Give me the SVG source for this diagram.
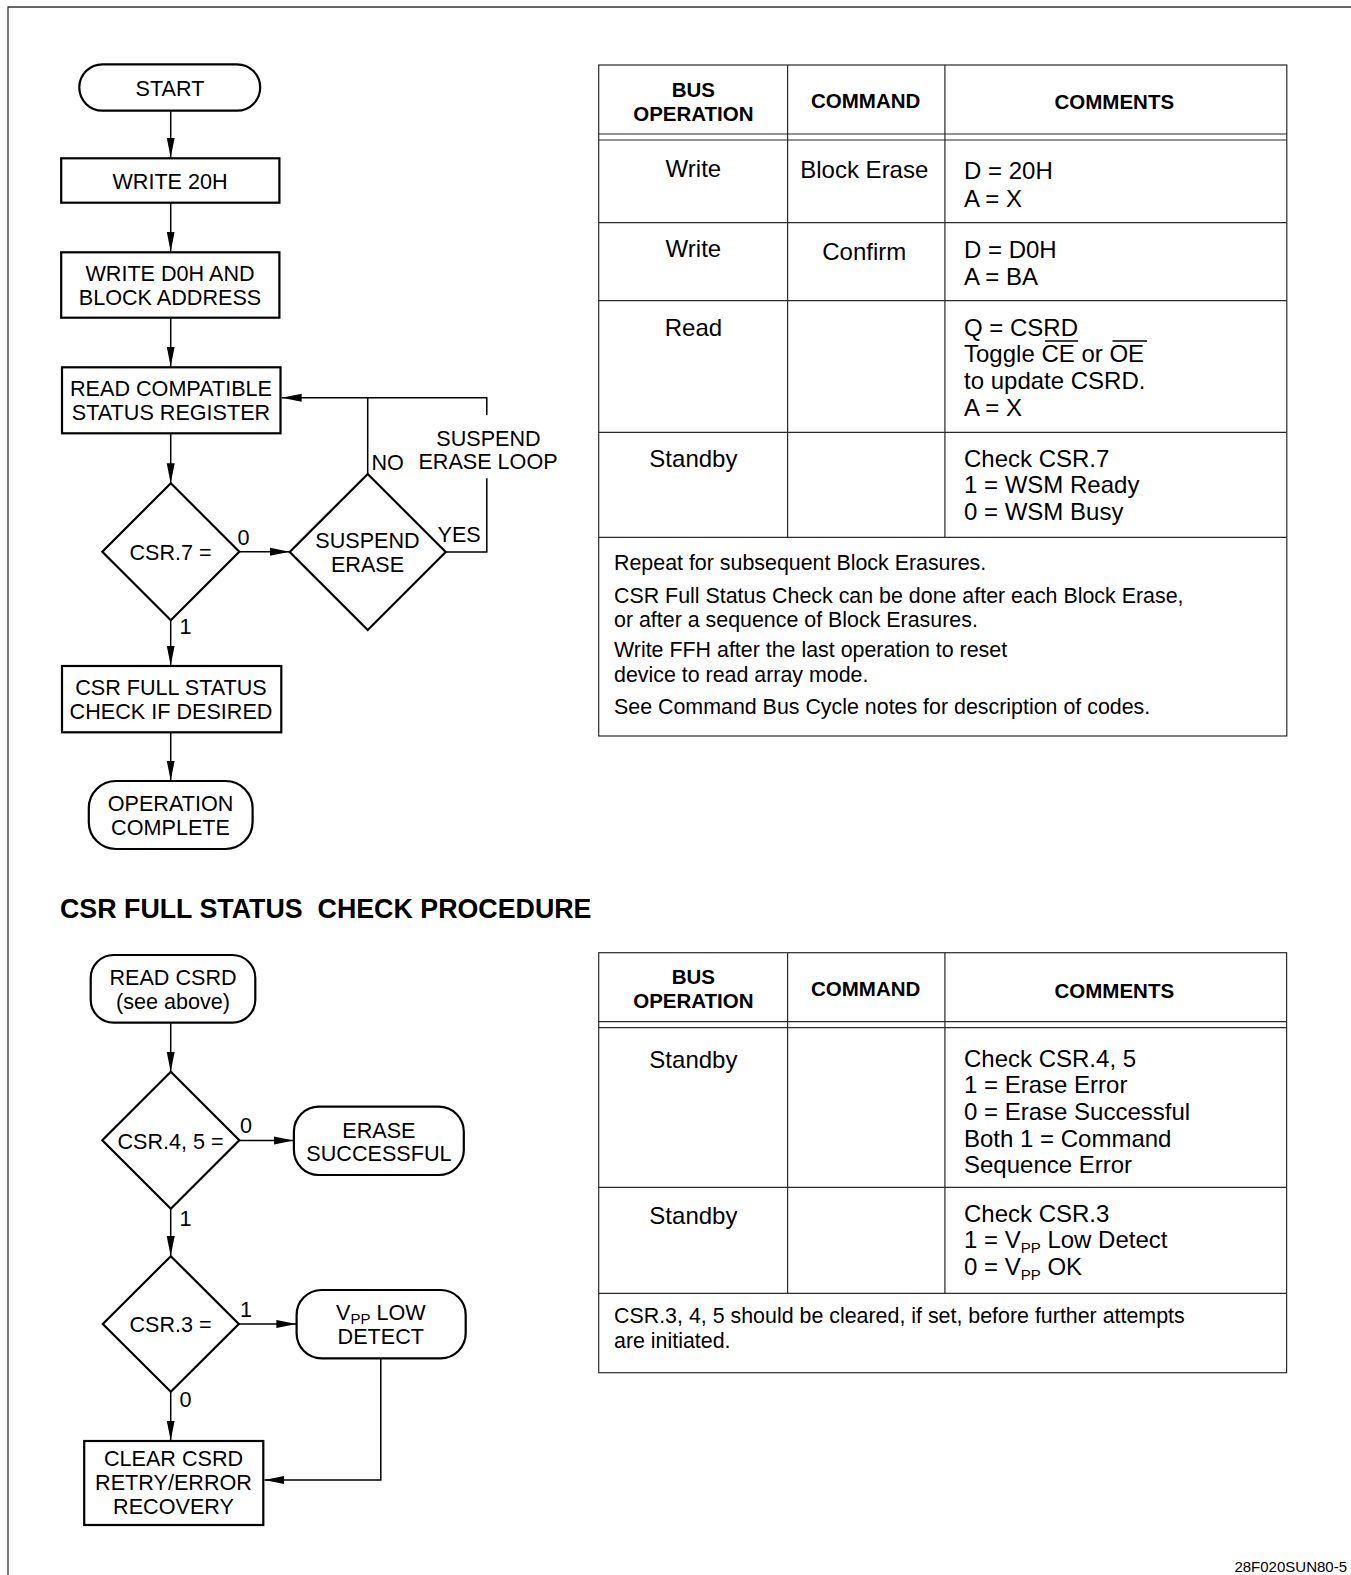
<svg xmlns="http://www.w3.org/2000/svg" width="1351" height="1575" viewBox="0 0 1351 1575">
<style>
text { font-family: "Liberation Sans", Arial, Helvetica, sans-serif; fill: #000; }
.n { font-size: 21.6px; text-anchor: middle; }
.l { font-size: 21.6px; }
.hd { font-size: 20.5px; font-weight: bold; text-anchor: middle; }
.c { font-size: 24px; text-anchor: middle; }
.cl { font-size: 24px; }
.nt { font-size: 21.4px; }
.ttl { font-size: 26.8px; font-weight: bold; }
.ft { font-size: 15px; text-anchor: end; }
.box { fill: #fff; stroke: #000; stroke-width: 2.2; }
.cn { fill: none; stroke: #000; stroke-width: 1.5; }
.tb { fill: none; stroke: #2a2a2a; stroke-width: 1.2; }
.sub { font-size: 15px; }
</style>
<defs>
<marker id="ah" markerUnits="userSpaceOnUse" markerWidth="21" markerHeight="9" refX="20" refY="4.5" orient="auto">
<path d="M0,0.5 L20,4.5 L0,8.5 z" fill="#000"/>
</marker>
</defs>
<rect x="0" y="0" width="1351" height="1575" fill="#fff"/>
<path d="M8,1575 V7 H1351" fill="none" stroke="#333" stroke-width="1.3"/>

<!-- connectors -->
<g id="connectors">
<path class="cn" d="M170.7,110.7 V157.5" marker-end="url(#ah)"/>
<path class="cn" d="M170.7,202.7 V251.5" marker-end="url(#ah)"/>
<path class="cn" d="M170.7,317.7 V366.5" marker-end="url(#ah)"/>
<path class="cn" d="M170.7,433.3 V483.2" marker-end="url(#ah)"/>
<path class="cn" d="M239.4,551.7 H289.7" marker-end="url(#ah)"/>
<path class="cn" d="M170.7,620.2 V665.5" marker-end="url(#ah)"/>
<path class="cn" d="M170.7,732.3 V780.5" marker-end="url(#ah)"/>
<path class="cn" d="M486.8,415 V397.7 H281.6" marker-end="url(#ah)"/>
<path class="cn" d="M367.7,474 V397.7"/>
<path class="cn" d="M445.7,552 H486.8 V478.3"/>
<path class="cn" d="M170.7,1022.7 V1071.7" marker-end="url(#ah)"/>
<path class="cn" d="M239.2,1140.5 H293.6" marker-end="url(#ah)"/>
<path class="cn" d="M170.7,1208.4 V1256" marker-end="url(#ah)"/>
<path class="cn" d="M239,1324 H296.4" marker-end="url(#ah)"/>
<path class="cn" d="M380.8,1358.3 V1480 H264.4" marker-end="url(#ah)"/>
<path class="cn" d="M170.7,1391.8 V1440.5" marker-end="url(#ah)"/>
</g>

<!-- flowchart 1 -->
<g id="start">
<rect class="box" x="79.3" y="64.3" width="180.9" height="46.4" rx="23.2"/>
<text class="n" x="170" y="95.5">START</text>
</g>
<g id="write20h">
<rect class="box" x="61.2" y="158.3" width="218.2" height="44.4"/>
<text class="n" x="170" y="189">WRITE 20H</text>
</g>
<g id="writed0h">
<rect class="box" x="61.2" y="252.3" width="218.2" height="65.4"/>
<text class="n" x="170" y="281">WRITE D0H AND</text>
<text class="n" x="170" y="305">BLOCK ADDRESS</text>
</g>
<g id="readcsr">
<rect class="box" x="62" y="367.3" width="218.5" height="66"/>
<text class="n" x="171" y="396">READ COMPATIBLE</text>
<text class="n" x="171" y="420">STATUS REGISTER</text>
</g>
<g id="csr7">
<path class="box" d="M170.8,483.2 L239.3,551.7 L170.8,620.2 L102.3,551.7 Z"/>
<text class="n" x="170.5" y="560">CSR.7 =</text>
<text class="l" x="237.5" y="545">0</text>
<text class="l" x="179.5" y="634">1</text>
</g>
<g id="suspend">
<path class="box" d="M367.7,474 L445.7,552 L367.7,630 L289.7,552 Z"/>
<text class="n" x="367.5" y="548">SUSPEND</text>
<text class="n" x="367.5" y="572">ERASE</text>
<text class="l" x="371.5" y="470">NO</text>
<text class="l" x="437.5" y="542">YES</text>
<text class="n" x="488.5" y="445.5">SUSPEND</text>
<text class="n" x="488" y="469.3">ERASE LOOP</text>
</g>
<g id="fullcheck">
<rect class="box" x="62" y="666" width="219.3" height="66.3"/>
<text class="n" x="171" y="695">CSR FULL STATUS</text>
<text class="n" x="171" y="719">CHECK IF DESIRED</text>
</g>
<g id="opcomplete">
<rect class="box" x="88.8" y="781" width="163.8" height="68" rx="27"/>
<text class="n" x="170.5" y="811">OPERATION</text>
<text class="n" x="170.5" y="834.5">COMPLETE</text>
</g>

<text class="ttl" x="60" y="918" xml:space="preserve">CSR FULL STATUS  CHECK PROCEDURE</text>

<!-- flowchart 2 -->
<g id="readcsrd">
<rect class="box" x="90.7" y="955" width="164.6" height="67.7" rx="23"/>
<text class="n" x="173" y="985">READ CSRD</text>
<text class="n" x="173" y="1008.5">(see above)</text>
</g>
<g id="csr45">
<path class="box" d="M170.8,1071.7 L239.3,1140.2 L170.8,1208.7 L102.3,1140.2 Z"/>
<text class="n" x="170.5" y="1149">CSR.4, 5 =</text>
<text class="l" x="240" y="1133">0</text>
<text class="l" x="179.5" y="1225.7">1</text>
</g>
<g id="erasesucc">
<rect class="box" x="293.9" y="1106.7" width="169.9" height="68.3" rx="25"/>
<text class="n" x="378.9" y="1137.7">ERASE</text>
<text class="n" x="378.9" y="1161">SUCCESSFUL</text>
</g>
<g id="csr3">
<path class="box" d="M170.8,1256.2 L238.8,1324 L170.8,1391.8 L102.8,1324 Z"/>
<text class="n" x="170.5" y="1331.7">CSR.3 =</text>
<text class="l" x="240" y="1317">1</text>
<text class="l" x="179.5" y="1406.7">0</text>
</g>
<g id="vpplow">
<rect class="box" x="296.6" y="1290" width="169.1" height="68.3" rx="25"/>
<text class="n" x="380.8" y="1320">V<tspan class="sub" dy="4">PP</tspan><tspan dy="-4"> LOW</tspan></text>
<text class="n" x="380.8" y="1344">DETECT</text>
</g>
<g id="clearcsrd">
<rect class="box" x="84.2" y="1441" width="179.1" height="84"/>
<text class="n" x="173.5" y="1466">CLEAR CSRD</text>
<text class="n" x="173.5" y="1490">RETRY/ERROR</text>
<text class="n" x="173.5" y="1514">RECOVERY</text>
</g>

<!-- table 1 -->
<g id="table1">
<rect class="tb" x="598.7" y="65" width="688.1" height="671"/>
<path class="tb" d="M598.7,134 H1286.8 M598.7,140 H1286.8 M598.7,222.7 H1286.8 M598.7,300.7 H1286.8 M598.7,432.3 H1286.8 M598.7,537.3 H1286.8 M787.6,65 V537.3 M944.9,65 V537.3"/>
<text class="hd" x="693.4" y="96.7">BUS</text>
<text class="hd" x="693.4" y="120.7">OPERATION</text>
<text class="hd" x="865.7" y="107.7">COMMAND</text>
<text class="hd" x="1114.3" y="109.3">COMMENTS</text>
<text class="c" x="693.4" y="177.3">Write</text>
<text class="c" x="864.3" y="178">Block Erase</text>
<text class="cl" x="964" y="179.3">D = 20H</text>
<text class="cl" x="964" y="206.7">A = X</text>
<text class="c" x="693.4" y="256.7">Write</text>
<text class="c" x="864.3" y="260">Confirm</text>
<text class="cl" x="964" y="258.3">D = D0H</text>
<text class="cl" x="964" y="285">A = BA</text>
<text class="c" x="693.4" y="336">Read</text>
<text class="cl" x="964" y="336">Q = CSRD</text>
<text class="cl" x="964" y="361.7">Toggle CE or OE</text>
<path d="M1045,341 H1078 M1112.5,341 H1147" stroke="#000" stroke-width="1.5"/>
<text class="cl" x="964" y="389.3">to update CSRD.</text>
<text class="cl" x="964" y="416">A = X</text>
<text class="c" x="693.4" y="467.3">Standby</text>
<text class="cl" x="964" y="467.3">Check CSR.7</text>
<text class="cl" x="964" y="493.3">1 = WSM Ready</text>
<text class="cl" x="964" y="519.5">0 = WSM Busy</text>
<text class="nt" x="614" y="570">Repeat for subsequent Block Erasures.</text>
<text class="nt" x="614" y="602.7">CSR Full Status Check can be done after each Block Erase,</text>
<text class="nt" x="614" y="626.7">or after a sequence of Block Erasures.</text>
<text class="nt" x="614" y="657.3">Write FFH after the last operation to reset</text>
<text class="nt" x="614" y="681.5">device to read array mode.</text>
<text class="nt" x="614" y="714">See Command Bus Cycle notes for description of codes.</text>
</g>

<!-- table 2 -->
<g id="table2">
<rect class="tb" x="598.7" y="952.7" width="687.9" height="420"/>
<path class="tb" d="M598.7,1021.7 H1286.6 M598.7,1027.7 H1286.6 M598.7,1187.3 H1286.6 M598.7,1293.3 H1286.6 M787.6,952.7 V1293.3 M944.9,952.7 V1293.3"/>
<text class="hd" x="693.4" y="984.3">BUS</text>
<text class="hd" x="693.4" y="1008.3">OPERATION</text>
<text class="hd" x="865.7" y="995.7">COMMAND</text>
<text class="hd" x="1114.3" y="998.3">COMMENTS</text>
<text class="c" x="693.4" y="1067.7">Standby</text>
<text class="cl" x="964" y="1066.7">Check CSR.4, 5</text>
<text class="cl" x="964" y="1093.3">1 = Erase Error</text>
<text class="cl" x="964" y="1120">0 = Erase Successful</text>
<text class="cl" x="964" y="1146.7">Both 1 = Command</text>
<text class="cl" x="964" y="1173.3">Sequence Error</text>
<text class="c" x="693.4" y="1224">Standby</text>
<text class="cl" x="964" y="1221.7">Check CSR.3</text>
<text class="cl" x="964" y="1248.3">1 = V<tspan class="sub" font-size="16" dy="5">PP</tspan><tspan dy="-5"> Low Detect</tspan></text>
<text class="cl" x="964" y="1275">0 = V<tspan class="sub" font-size="16" dy="5">PP</tspan><tspan dy="-5"> OK</tspan></text>
<text class="nt" x="614" y="1323.3">CSR.3, 4, 5 should be cleared, if set, before further attempts</text>
<text class="nt" x="614" y="1348.3">are initiated.</text>
</g>

<text class="ft" x="1347" y="1572">28F020SUN80-5</text>
</svg>
